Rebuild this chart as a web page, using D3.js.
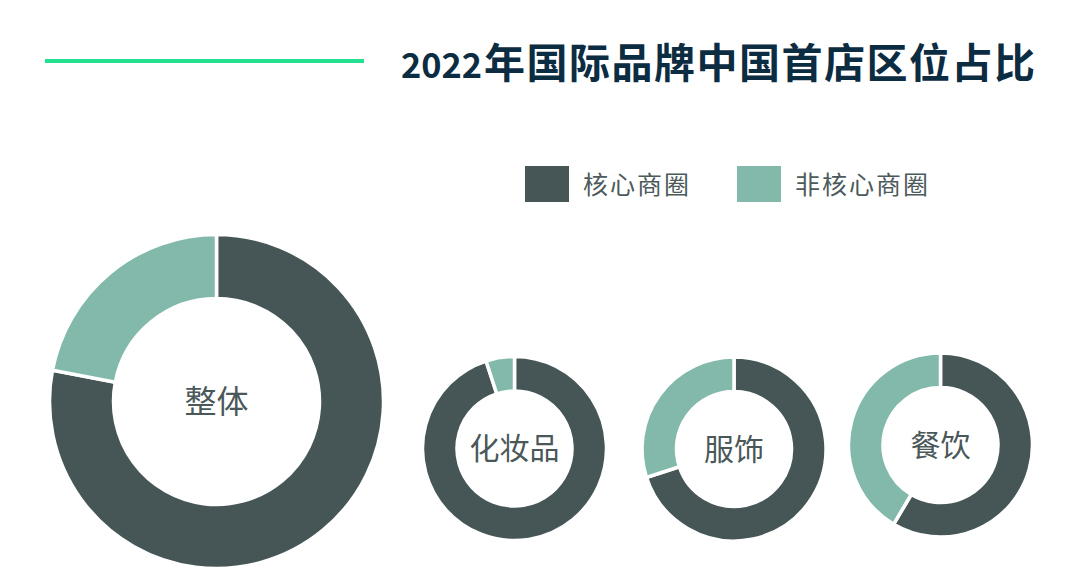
<!DOCTYPE html>
<html>
<head>
<meta charset="utf-8">
<script src="https://cdn.jsdelivr.net/npm/d3@7"></script>
<style>
  html, body { margin: 0; padding: 0; background: #fff; }
  svg { display: block; }
  text { font-family: "Noto Sans CJK SC", "Noto Sans", sans-serif; }
</style>
</head>
<body>
<div id="chart"></div>
<script>
// Data (share of first stores, %)
const categories = ["整体", "化妆品", "服饰", "餐饮"];
const seriesNames = ["核心商圈", "非核心商圈"];
const coreShare = [78, 95, 70, 58.5];
const nonCoreShare = [22, 5, 30, 41.5];
const titleYear = "2022";
const titleRest = "年国际品牌中国首店区位占比";

const width = 1080, height = 583;
const colors = ["#465556", "#82b9ab"];

const svg = d3.select("#chart").append("svg")
    .attr("width", width)
    .attr("height", height);

// Title + accent line
svg.append("line")
    .attr("x1", 45).attr("x2", 364)
    .attr("y1", 61).attr("y2", 61)
    .attr("stroke", "#22e08f")
    .attr("stroke-width", 4);

// year digits and the Chinese part are set separately so each can be fitted
svg.append("text")
    .attr("x", 401)
    .attr("y", 78)
    .attr("fill", "#0c2c42")
    .attr("textLength", 81)
    .attr("lengthAdjust", "spacingAndGlyphs")
    .style("font-weight", 700)
    .style("font-size", "35px")
    .text(titleYear);

svg.append("text")
    .attr("x", 484)
    .attr("y", 78)
    .attr("fill", "#0c2c42")
    .attr("textLength", 551)
    .attr("lengthAdjust", "spacing")
    .style("font-weight", 700)
    .style("font-size", "41px")
    .text(titleRest);

// Legend
const legendX = [525, 737];
const legend = svg.selectAll(".legend")
    .data(seriesNames)
    .join("g")
    .attr("class", "legend")
    .attr("transform", (d, i) => `translate(${legendX[i]},166)`);
legend.append("rect")
    .attr("width", 44)
    .attr("height", 36)
    .attr("fill", (d, i) => colors[i]);
legend.append("text")
    .attr("x", 58)
    .attr("y", 28)
    .attr("fill", "#4d5a5b")
    .style("font-size", "25px")
    .style("letter-spacing", "2px")
    .text(d => d);

// Donuts: big one on the left, three small ones to the right
const donuts = categories.map((c, i) => ({
    name: c,
    values: [coreShare[i], nonCoreShare[i]]
}));

const layout = {
    "整体": { cx: 216.5, cy: 401.5, r: 167, r0: 103, fs: 32 },
    "化妆品": { cx: 514.5, cy: 448.5, r: 92, r0: 57.5, fs: 30 },
    "服饰": { cx: 734, cy: 449, r: 92, r0: 57.5, fs: 30 },
    "餐饮": { cx: 940.5, cy: 445, r: 92, r0: 57.5, fs: 30 }
};

const pie = d3.pie().sort(null).value(d => d);

const g = svg.selectAll(".donut")
    .data(donuts)
    .join("g")
    .attr("class", "donut")
    .attr("transform", d => `translate(${layout[d.name].cx},${layout[d.name].cy})`);

g.each(function (d) {
    const L = layout[d.name];
    const arc = d3.arc().innerRadius(L.r0).outerRadius(L.r);
    d3.select(this).selectAll("path")
        .data(pie(d.values))
        .join("path")
        .attr("d", arc)
        .attr("fill", (p, i) => colors[i])
        .attr("stroke", "#fff")
        .attr("stroke-width", 3.5);
});

g.append("text")
    .attr("text-anchor", "middle")
    .attr("dy", "0.36em")
    .attr("fill", "#4a5859")
    .style("font-size", d => layout[d.name].fs + "px")
    .text(d => d.name);
</script>
</body>
</html>
